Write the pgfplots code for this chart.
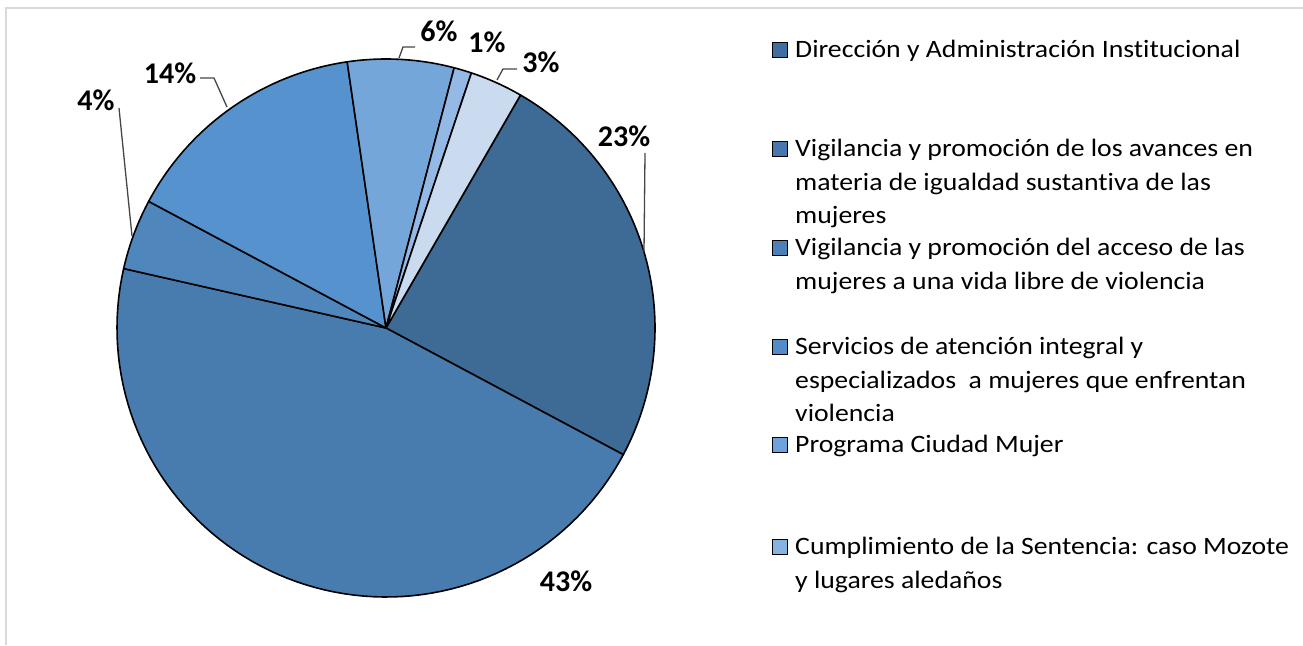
\documentclass[border=0pt]{standalone}
\usepackage{fontspec}
\setmainfont{Carlito}
\newfontfamily\legfam{Carlito}[FakeStretch=1.11, Ligatures=NoCommon]
\usepackage{pgfplots}
\usepackage{pgfplotstable}
\pgfplotsset{compat=1.18}

\definecolor{slice0}{RGB}{62,106,150}
\definecolor{slice1}{RGB}{73,124,174}
\definecolor{slice2}{RGB}{79,134,188}
\definecolor{slice3}{RGB}{86,147,206}
\definecolor{slice4}{RGB}{116,166,218}
\definecolor{slice5}{RGB}{148,185,229}
\definecolor{slice6}{RGB}{202,218,239}
\definecolor{leg0}{RGB}{64,110,164}
\definecolor{leg1}{RGB}{70,120,175}
\definecolor{leg2}{RGB}{75,128,185}
\definecolor{leg3}{RGB}{82,140,200}
\definecolor{leg4}{RGB}{110,162,218}
\definecolor{leg5}{RGB}{135,178,228}
\definecolor{frame}{RGB}{218,218,218}
\definecolor{leader}{RGB}{70,70,70}

% slice values (percent labels as shown on the chart)
\pgfplotstableread{
idx value
0 23
1 43
2 4
3 14
4 6
5 1
6 3
}\piedata
\pgfplotstablecreatecol[create col/expr accum={\pgfmathaccuma + \thisrow{value}}{0}]{cum}{\piedata}

\newcommand\legfont{\legfam\fontsize{25}{33}\selectfont}
\newcommand\pctfont{\fontsize{30}{36}\selectfont\bfseries}

\begin{document}
\begin{tikzpicture}
\useasboundingbox (0,0) rectangle (1303pt,645pt);
\begin{axis}[
  at={(0,0)}, anchor=south west,
  width=1303pt, height=645pt, scale only axis,
  xmin=0, xmax=1303, ymin=0, ymax=645, y dir=reverse,
  hide axis, clip=false,
]
% frame
\addplot[frame, line width=2.5pt] coordinates {(6,645) (6,8) (1303,8)};

\pgfplotstablegetelem{6}{cum}\of\piedata
\edef\total{\pgfplotsretval}
\def\startang{60}
\pgfplotsinvokeforeach{0,...,6}{
  \pgfplotstablegetelem{#1}{value}\of\piedata \edef\v{\pgfplotsretval}
  \pgfplotstablegetelem{#1}{cum}\of\piedata \edef\c{\pgfplotsretval}
  \pgfmathsetmacro\aend{\startang - \c/\total*360}
  \pgfmathsetmacro\abeg{\startang - (\c-\v)/\total*360}
  \edef\doplot{\noexpand\addplot[draw=black, line width=1.6pt, line join=round, fill=slice#1, domain=\aend:\abeg, samples=80, variable=\noexpand\t]
    ({386+269*cos(\noexpand\t)}, {328-269*sin(\noexpand\t)}) -- (axis cs:386,328) -- cycle;}
  \doplot
}

% leader lines
\addplot[leader, line width=1.3pt] coordinates {(645,153) (644,252)};
\addplot[leader, line width=1.3pt] coordinates {(119,108) (132,236)};
\addplot[leader, line width=1.3pt] coordinates {(200,78) (214,78) (227,107)};
\addplot[leader, line width=1.3pt] coordinates {(415,47) (403,47) (399,58)};
\addplot[leader, line width=1.3pt] coordinates {(517,69) (503,69) (497,80)};

% percentage labels
\node[font=\pctfont, inner sep=0] at (axis cs:624,136) {23\%};
\node[font=\pctfont, inner sep=0] at (axis cs:566,581) {43\%};
\node[font=\pctfont, inner sep=0] at (axis cs:96,100) {4\%};
\node[font=\pctfont, inner sep=0] at (axis cs:170,73) {14\%};
\node[font=\pctfont, inner sep=0] at (axis cs:439,31) {6\%};
\node[font=\pctfont, inner sep=0] at (axis cs:487,42) {1\%};
\node[font=\pctfont, inner sep=0] at (axis cs:541,62) {3\%};

% legend keys
\addplot[only marks, mark=square*, mark size=7.5pt, mark options={fill=leg0, draw=black, line width=1.2pt}] coordinates {(780,50)};
\addplot[only marks, mark=square*, mark size=7.5pt, mark options={fill=leg1, draw=black, line width=1.2pt}] coordinates {(780,149)};
\addplot[only marks, mark=square*, mark size=7.5pt, mark options={fill=leg2, draw=black, line width=1.2pt}] coordinates {(780,248)};
\addplot[only marks, mark=square*, mark size=7.5pt, mark options={fill=leg3, draw=black, line width=1.2pt}] coordinates {(780,347)};
\addplot[only marks, mark=square*, mark size=7.5pt, mark options={fill=leg4, draw=black, line width=1.2pt}] coordinates {(780,445)};
\addplot[only marks, mark=square*, mark size=7.5pt, mark options={fill=leg5, draw=black, line width=1.2pt}] coordinates {(780,547)};

% legend text
\tikzset{lg/.style={anchor=base west, inner sep=0, font=\legfont}}
\node[lg] at (axis cs:795,57) {Dirección y Administración Institucional};
\node[lg] at (axis cs:795,156) {Vigilancia y promoción de los avances en};
\node[lg] at (axis cs:795,190) {materia de igualdad sustantiva de las};
\node[lg] at (axis cs:795,223) {mujeres};
\node[lg] at (axis cs:795,255) {Vigilancia y promoción del acceso de las};
\node[lg] at (axis cs:795,289) {mujeres a una vida libre de violencia};
\node[lg] at (axis cs:795,354) {Servicios de atención integral y};
\node[lg] at (axis cs:795,388) {especializados\ \ a mujeres que enfrentan};
\node[lg] at (axis cs:795,421) {violencia};
\node[lg] at (axis cs:795,452) {Programa Ciudad Mujer};
\node[lg] at (axis cs:795,554) {Cumplimiento de la Sentencia: caso Mozote};
\node[lg] at (axis cs:795,588) {y lugares aledaños};
\end{axis}
\end{tikzpicture}
\end{document}
